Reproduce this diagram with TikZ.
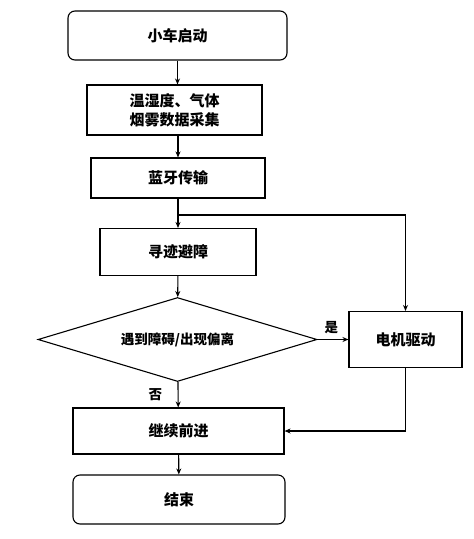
\documentclass[tikz,border=0pt]{standalone}
\usepackage{fontspec}
\usepackage{tikz}
\usetikzlibrary{shapes.geometric,arrows.meta}
\newfontfamily\cjk{Noto Sans CJK SC}

\begin{document}
\begin{tikzpicture}[x=1pt, y=-1pt, line width=1.1pt,
  box/.style={draw, rectangle, inner sep=0pt, font=\cjk\bfseries\fontsize{15}{19}\selectfont, align=center},
  term/.style={box, rounded corners=7pt},
  decision/.style={draw, diamond, aspect=3.32, inner sep=0pt, font=\cjk\bfseries\fontsize{13.5}{16}\selectfont},
  flow/.style={-{Stealth[length=6pt,width=5pt]}},
  tag/.style={font=\cjk\bfseries\fontsize{13.5}{16}\selectfont}]
  \useasboundingbox (0,0) rectangle (474,539);

  % Nodes
  \node[term, minimum width=219pt, minimum height=49pt] (start) at (177.5,35.5) {小车启动};
  \node[box, minimum width=175pt, minimum height=50pt] (collect) at (174.5,110) {温湿度、气体\\烟雾数据采集};
  \node[box, minimum width=174pt, minimum height=40pt] (blue) at (178,178) {蓝牙传输};
  \node[box, minimum width=156pt, minimum height=47pt] (track) at (178,252) {寻迹避障};
  \node[decision, minimum width=279pt, minimum height=84pt] (judge) at (177.5,339.5) {遇到障碍/出现偏离};
  \node[box, minimum width=113pt, minimum height=56pt] (motor) at (405.5,339.5) {电机驱动};
  \node[box, minimum width=211pt, minimum height=46pt] (go) at (178.5,431) {继续前进};
  \node[term, minimum width=212pt, minimum height=49pt] (stop) at (179,499.5) {结束};
  \coordinate (split) at (178,215);

  % Connectors
  \draw[flow] (start) -- (start.south |- collect.north);
  \draw[flow] (collect.south -| blue) -- (blue);
  \draw[flow] (blue) -- (track);
  \draw[flow] (split) -| (motor);
  \draw[flow] (track) -- (judge);
  \draw[flow] (judge) -- (motor) node[tag, pos=0.45, above=2pt] {是};
  \draw[flow] (judge) -- (go) node[tag, midway, left=12pt] {否};
  \draw[flow] (motor) |- (go);
  \draw[flow] (go) -- (stop);
\end{tikzpicture}
\end{document}
